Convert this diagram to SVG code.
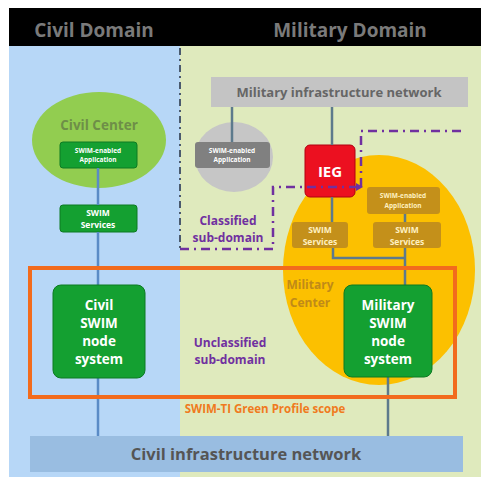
<svg xmlns="http://www.w3.org/2000/svg" width="481" height="477" viewBox="0 0 481 477">
<defs>
<style>
text{font-family:"Open Sans","Liberation Sans",sans-serif;font-weight:bold;text-anchor:middle}
.hdr{font-size:19px;fill:#7a7a7a}
.w{fill:#ffffff}
.tiny{font-size:6.5px}
.sm{font-size:8.5px}
.node{font-size:13.5px}
.pur{fill:#7030a0;font-size:12px}
.gbox{fill:#14a031;stroke:#0d7a22;stroke-width:1}
.bbox{fill:#c4901a}
.bt{fill:#fff0c0}
.cl{stroke:#5a8bc6;stroke-width:2.5;fill:none}
.ml{stroke:#5d7a8c;stroke-width:2.5;fill:none}
.dash{stroke:#7030a0;stroke-width:2.5;fill:none;stroke-dasharray:9 5 2 5}
</style>
</defs>
<rect x="0" y="0" width="481" height="477" fill="#ffffff"/>
<rect x="9" y="46" width="171" height="431" fill="#b7d7f7"/>
<rect x="180" y="46" width="301" height="431" fill="#dfeabd"/>
<rect x="9" y="8" width="472" height="38" fill="#000000"/>
<text class="hdr" x="94" y="37">Civil Domain</text>
<text class="hdr" x="350" y="37">Military Domain</text>

<g id="civil-center">
<ellipse cx="99" cy="140" rx="67" ry="48" fill="#92cd50"/>
<text x="99" y="130" style="font-size:13.5px;fill:#6e8e48">Civil Center</text>
</g>
<g id="military-center">
<ellipse cx="379" cy="270" rx="96" ry="115" fill="#fcc000"/>
<text x="310" y="289" style="font-size:12px;fill:#c08a18">Military</text>
<text x="310" y="307" style="font-size:12px;fill:#c08a18">Center</text>
</g>
<g id="classified-center">
<ellipse cx="234" cy="157" rx="39" ry="35" fill="#c6c6c6"/>
</g>

<g id="military-network">
<rect x="211" y="77" width="257" height="30" fill="#c4c4c4"/>
<text x="339" y="97" style="font-size:13px;fill:#666666">Military infrastructure network</text>
</g>
<g id="classified-app">
<rect x="195" y="142" width="75" height="26" rx="3" fill="#808080"/>
<text class="w tiny" x="232" y="153">SWIM-enabled</text>
<text class="w tiny" x="232" y="162">Application</text>
</g>
<g id="ieg">
<rect x="305" y="145" width="50" height="52" rx="5" fill="#ec1020" stroke="#b00010" stroke-width="1"/>
<text class="w" x="330" y="177" style="font-size:15px">IEG</text>
</g>
<g id="civil-app">
<rect class="gbox" x="60" y="142" width="77" height="26" rx="3"/>
<text class="w tiny" x="98" y="153">SWIM-enabled</text>
<text class="w tiny" x="98" y="162">Application</text>
</g>
<g id="civil-services">
<rect class="gbox" x="60" y="205" width="77" height="27" rx="3"/>
<text class="w sm" x="98" y="216">SWIM</text>
<text class="w sm" x="98" y="228">Services</text>
</g>
<g id="military-app">
<rect class="bbox" x="367" y="187" width="73" height="27" rx="3"/>
<text class="bt tiny" x="403" y="198">SWIM-enabled</text>
<text class="bt tiny" x="403" y="208">Application</text>
</g>
<g id="military-services-1">
<rect class="bbox" x="292" y="222" width="56" height="26" rx="3"/>
<text class="bt sm" x="320" y="233">SWIM</text>
<text class="bt sm" x="320" y="245">Services</text>
</g>
<g id="military-services-2">
<rect class="bbox" x="373" y="222" width="68" height="26" rx="3"/>
<text class="bt sm" x="407" y="233">SWIM</text>
<text class="bt sm" x="407" y="245">Services</text>
</g>

<g id="connectors">
<line x1="180" y1="48" x2="180" y2="250" stroke="#4a5a6e" stroke-width="2" stroke-dasharray="7 4 2 4"/>
<polyline class="dash" points="180,249 273,249 273,187 358,187"/>
<polygon points="356,183 363,187 356,191" fill="#7030a0"/>
<polyline class="dash" points="361,187 361,131 463,131"/>
<line class="cl" x1="98" y1="168" x2="98" y2="205"/>
<line class="cl" x1="98" y1="232" x2="98" y2="285"/>
<line class="cl" x1="98" y1="378" x2="98" y2="436"/>
<line class="ml" x1="232" y1="107" x2="232" y2="142"/>
<line class="ml" x1="332" y1="107" x2="332" y2="145"/>
<line class="ml" x1="332" y1="197" x2="332" y2="222"/>
<line class="ml" x1="405" y1="214" x2="405" y2="222"/>
<polyline class="ml" points="333,248 333,258 405,258"/>
<line class="ml" x1="405" y1="248" x2="405" y2="285"/>
<line class="ml" x1="388" y1="377" x2="388" y2="436"/>
</g>

<g id="classified-label">
<text class="pur" x="228" y="225">Classified</text>
<text class="pur" x="228" y="242">sub-domain</text>
</g>

<g id="scope">
<rect x="30" y="268" width="425" height="129" fill="none" stroke="#f26b1d" stroke-width="4"/>
<text x="265" y="413" style="font-size:11.5px;fill:#f07a20">SWIM-TI Green Profile scope</text>
</g>
<g id="civil-node">
<rect class="gbox" x="53" y="285" width="92" height="93" rx="8"/>
<text class="w node" x="99" y="310">Civil</text>
<text class="w node" x="99" y="328">SWIM</text>
<text class="w node" x="99" y="346">node</text>
<text class="w node" x="99" y="364">system</text>
</g>
<g id="military-node">
<rect class="gbox" x="344" y="285" width="88" height="92" rx="8"/>
<text class="w node" x="388" y="310">Military</text>
<text class="w node" x="388" y="328">SWIM</text>
<text class="w node" x="388" y="346">node</text>
<text class="w node" x="388" y="364">system</text>
</g>
<g id="unclassified-label">
<text class="pur" x="230" y="347">Unclassified</text>
<text class="pur" x="230" y="364">sub-domain</text>
</g>
<g id="civil-network">
<rect x="30" y="436" width="433" height="36" fill="#99bde1"/>
<text x="246" y="460" style="font-size:16.5px;fill:#555555">Civil infrastructure network</text>
</g>
</svg>
